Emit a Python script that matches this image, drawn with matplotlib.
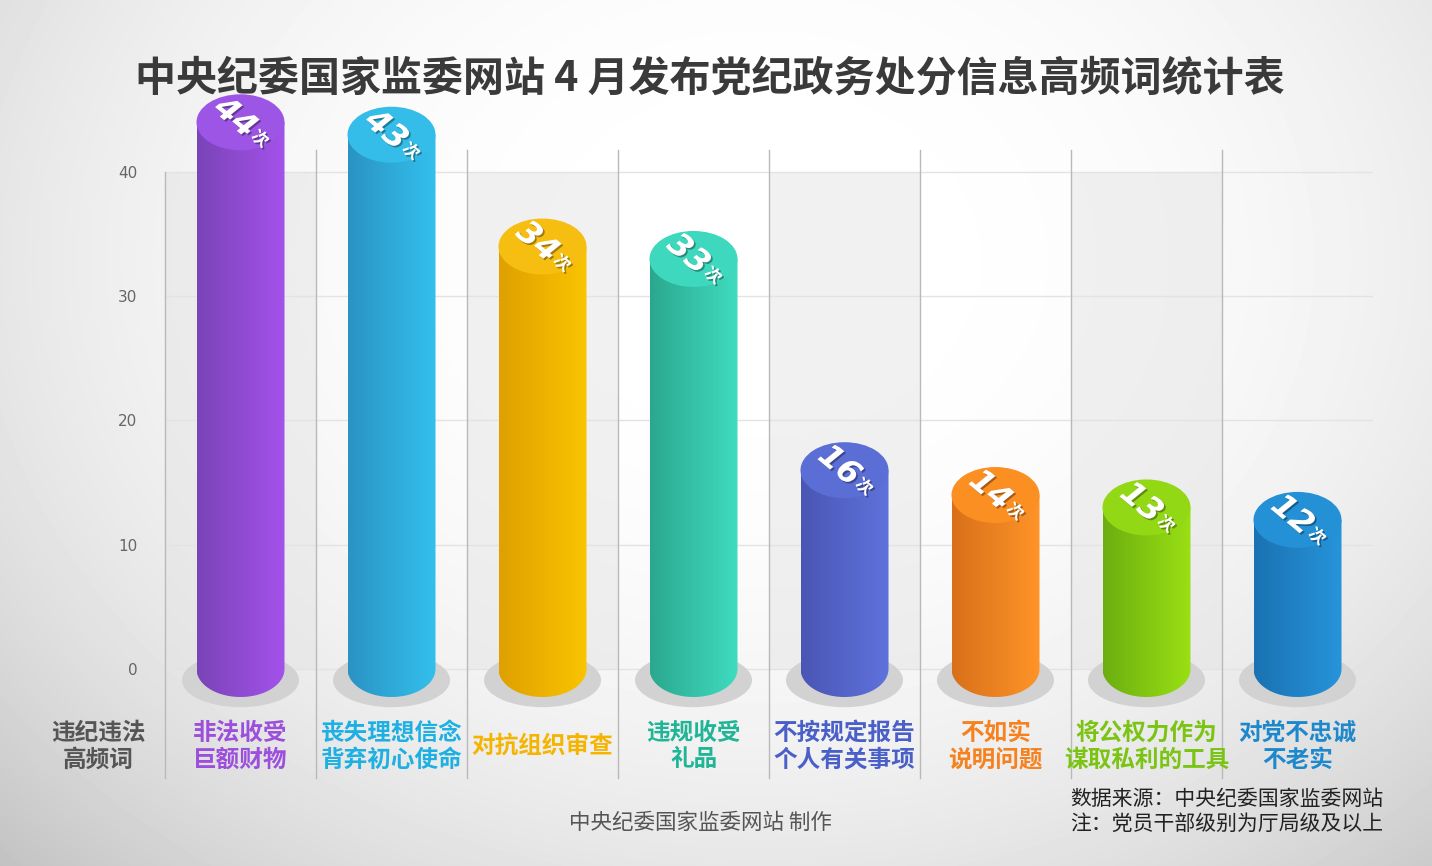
import numpy as np
import matplotlib
matplotlib.use("Agg")
import matplotlib.pyplot as plt
from matplotlib.patches import Ellipse, PathPatch, Rectangle
from matplotlib.path import Path
import matplotlib.patheffects as pe

plt.rcParams['font.family'] = ['Noto Sans CJK SC', 'DejaVu Sans']

title = "中央纪委国家监委网站 4 月发布党纪政务处分信息高频词统计表"
categories = ["非法收受\n巨额财物", "丧失理想信念\n背弃初心使命", "对抗组织审查", "违规收受\n礼品",
              "不按规定报告\n个人有关事项", "不如实\n说明问题", "将公权力作为\n谋取私利的工具", "对党不忠诚\n不老实"]
counts = [44, 43, 34, 33, 16, 14, 13, 12]
yticks = [0, 10, 20, 30, 40]

# colours: dark side, light side, top, label
dark_cols = ["#7a44b8", "#2a93c4", "#dfa000", "#2aa88e", "#4a56b4", "#d8701a", "#6cae10", "#1a72b2"]
light_cols = ["#a452ea", "#34c0ec", "#fac400", "#40dcc0", "#5f72dc", "#ff9428", "#9ae014", "#2794da"]
top_cols = ["#9d55e6", "#33bde8", "#f6be10", "#3ed8be", "#5b6ed6", "#fb8f22", "#92d814", "#2490d6"]
label_cols = ["#9b4fdc", "#1eb0e2", "#f5b400", "#1fb596", "#4a60c8", "#f5821f", "#7cc414", "#1e88cc"]

W, H = 1432, 866
fig = plt.figure(figsize=(W / 100, H / 100), dpi=100)

# background radial gradient
bg = fig.add_axes([0, 0, 1, 1])
yy, xx = np.mgrid[0:H, 0:W]
r2 = ((xx - 760) / 1000.0) ** 2 + ((yy - 260) / 800.0) ** 2
shade = np.clip(1.0 - 0.2 * r2 ** 1.3, 0, 1)
bg.imshow(shade, cmap="gray", vmin=0, vmax=1, extent=[0, W, H, 0], aspect="auto")
bg.set_xlim(0, W)
bg.set_ylim(H, 0)
bg.axis("off")

# main axes: 0 at y=669px, 40 at y=172px, columns 165..1373px
ppu = (669 - 172) / 40.0
y_lo, y_hi = -4.0, 50.0
ax_bottom = (H - (669 + (-y_lo) * ppu)) / H
ax_height = (y_hi - y_lo) * ppu / H
ax = fig.add_axes([165 / W, ax_bottom, (1373 - 165) / W, ax_height])
ax.patch.set_alpha(0)
n = len(counts)
ax.set_xlim(-0.5, n - 0.5)
ax.set_ylim(y_lo, y_hi)
for s in ax.spines.values():
    s.set_visible(False)
ax.set_xticks([])
ax.set_yticks(yticks)
ax.set_yticklabels([str(t) for t in yticks], color="#666666", fontsize=11, family="DejaVu Sans")
ax.tick_params(axis="y", length=0, pad=20)
for t in yticks:
    ax.axhline(t, color="#e3e3e3", lw=1.0, zorder=1)

# alternating column shading
for i in range(n):
    if i % 2 == 0:
        ax.add_patch(Rectangle((i - 0.5, 0), 1, yticks[-1], facecolor="#e4e4e4", alpha=0.5,
                               edgecolor="none", zorder=0.5))

# column separators
for i in range(n):
    top = 40 if i == 0 else 41.8
    ax.plot([i - 0.5, i - 0.5], [-8.8, top], color="#b9b9b9", lw=1.0, clip_on=False, zorder=1)

bw = 88 / 151.0
eh = 56 / ppu
grad = np.linspace(0, 1, 256).reshape(1, -1)
theta = np.linspace(np.pi, 2 * np.pi, 60)

for i, v in enumerate(counts):
    # shadow
    ax.add_patch(Ellipse((i, -0.9), 117 / 151.0, 54 / ppu, facecolor="#d2d2d2", edgecolor="none", zorder=2))
    # body outline: rectangle plus lower half ellipse
    xs = np.concatenate([[i - bw / 2], i + bw / 2 * np.cos(theta), [i + bw / 2]])
    ys = np.concatenate([[v], eh / 2 * np.sin(theta), [v]])
    verts = np.column_stack([xs, ys])
    body = Path(np.vstack([verts, verts[:1]]), closed=True)
    patch = PathPatch(body, facecolor="none", edgecolor="none", transform=ax.transData)
    ax.add_patch(patch)
    cmap = matplotlib.colors.LinearSegmentedColormap.from_list("c%d" % i, [dark_cols[i], light_cols[i]])
    im = ax.imshow(grad, cmap=cmap, extent=[i - bw / 2, i + bw / 2, -eh / 2, v], aspect="auto",
                   zorder=3, interpolation="bilinear")
    im.set_clip_path(patch)
    # top
    ax.add_patch(Ellipse((i, v), bw, eh, facecolor=top_cols[i], edgecolor="none", zorder=4))
    # value label
    ang = -40
    shadow = [pe.withSimplePatchShadow(offset=(1.2, -1.2), shadow_rgbFace="black", alpha=0.35)]
    ax.annotate(str(v), (i, v), xytext=(-4, 3), textcoords="offset points", ha="center", va="center",
                rotation=ang, fontsize=23, fontweight="heavy", fontstyle="italic", color="white",
                family="DejaVu Sans", zorder=5, path_effects=shadow)
    ax.annotate("次", (i, v), xytext=(14, -12), textcoords="offset points", ha="center", va="center",
                rotation=ang, fontsize=12, fontweight="bold", color="white", zorder=5, path_effects=shadow)
    # category label
    ax.text(i, -6.2, categories[i], ha="center", va="center", fontsize=17, color=label_cols[i],
            linespacing=1.15, fontweight="bold")

ax.text(-0.5 - 67 / 151.0, -6.2, "违纪违法\n高频词", ha="center", va="center", fontsize=17,
        color="#555555", linespacing=1.15, fontweight="bold")

fig.text(710 / W, 1 - 78 / H, title, ha="center", va="center", fontsize=29.5, fontweight="bold", color="#3a3a3a")
fig.text(700 / W, 1 - 823 / H, "中央纪委国家监委网站 制作", ha="center", va="center", fontsize=15.5, color="#555555")
fig.text(1070 / W, 1 - 799 / H, "数据来源：中央纪委国家监委网站", ha="left", va="center", fontsize=15, color="#222222")
fig.text(1070 / W, 1 - 824 / H, "注：党员干部级别为厅局级及以上", ha="left", va="center", fontsize=15, color="#222222")

fig.savefig("out.png", dpi=100)
